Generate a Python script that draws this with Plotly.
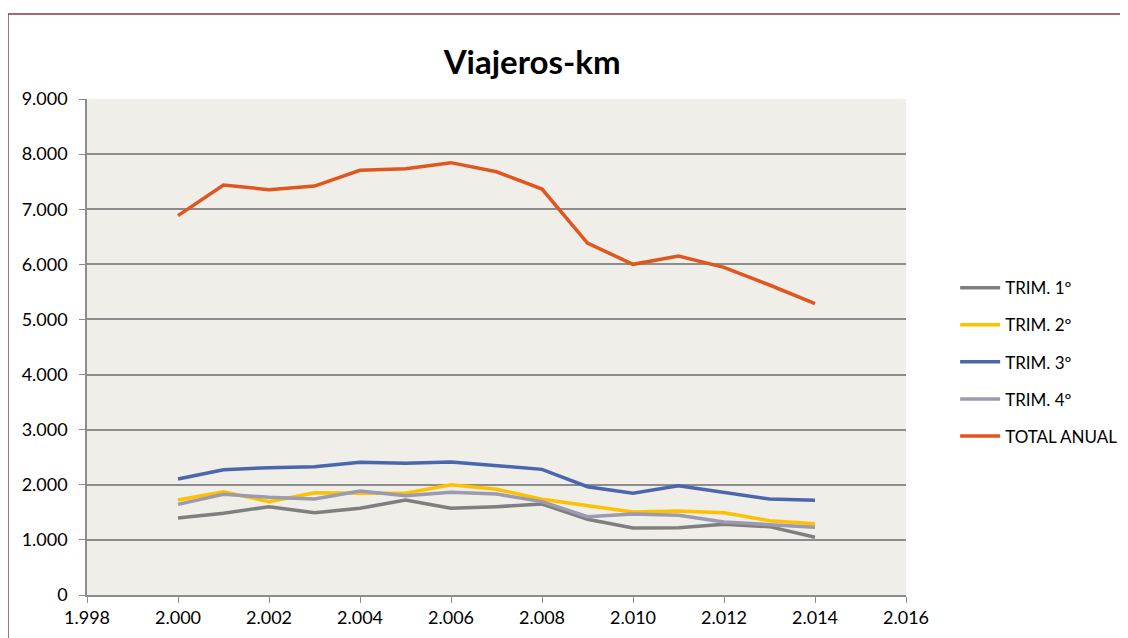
import plotly.graph_objects as go

years = list(range(2000, 2015))
trim1 = [1397, 1482, 1603, 1494, 1573, 1724, 1573, 1603, 1651, 1373, 1216, 1222, 1283, 1240, 1047]
trim2 = [1724, 1875, 1694, 1857, 1845, 1845, 2000, 1918, 1737, 1615, 1506, 1524, 1494, 1349, 1294]
trim3 = [2105, 2274, 2310, 2328, 2408, 2390, 2413, 2340, 2280, 1965, 1845, 1983, 1857, 1742, 1718]
trim4 = [1645, 1827, 1772, 1742, 1887, 1802, 1863, 1833, 1694, 1421, 1470, 1446, 1325, 1283, 1228]
total = [6883, 7440, 7354, 7420, 7706, 7735, 7845, 7680, 7367, 6387, 6000, 6150, 5946, 5625, 5286]

series_names = ["TRIM. 1º", "TRIM. 2º", "TRIM. 3º", "TRIM. 4º", "TOTAL ANUAL"]
series_values = [trim1, trim2, trim3, trim4, total]
colors = ["#7F7F7F", "#FFC000", "#4A66AC", "#9A9AB0", "#E0561F"]

FONT = "Lato, Open Sans, sans-serif"

fig = go.Figure()
for i, (name, vals, col) in enumerate(zip(series_names, series_values, colors)):
    fig.add_trace(go.Scatter(
        x=years, y=vals, mode="lines", name=name,
        line=dict(color=col, width=3.5),
        legendgroup=f"g{i}",
    ))

# page body has an 8px margin, so the figure is 8px smaller on each axis
fig.update_layout(
    width=1120, height=630,
    margin=dict(l=79, r=222, t=91, b=43, autoexpand=False),
    paper_bgcolor="white",
    plot_bgcolor="#EFEEE8",
    separators=",.",
    font=dict(family=FONT, size=18, color="#000000"),
    title=dict(text="<b>Viajeros-km</b>", x=0.468, xanchor="center", xref="container",
               y=0.914, yanchor="middle", yref="container",
               font=dict(size=33, family=FONT)),
    legend=dict(x=1.06, y=0.655, xanchor="left", yanchor="top",
                tracegroupgap=12, font=dict(size=17), bgcolor="rgba(0,0,0,0)",
                itemwidth=40),
    showlegend=True,
    shapes=[dict(type="rect", xref="paper", yref="paper",
                 x0=-0.0965, x1=1.4, y0=-0.2, y1=1.1714,
                 line=dict(color="#8B3A44", width=1.5), fillcolor="rgba(0,0,0,0)",
                 layer="below")],
)
fig.update_xaxes(range=[1998, 2016], dtick=2, tick0=1998, tickformat=",d",
                 showgrid=False, zeroline=False, showline=True, linecolor="#8C8C8C",
                 linewidth=1.5, ticks="outside", ticklen=6, tickcolor="#8C8C8C",
                 tickfont=dict(size=18))
fig.update_yaxes(range=[0, 9000], dtick=1000, tickformat=",d",
                 showgrid=True, gridcolor="#8C8C8C", gridwidth=1.5, zeroline=False,
                 showline=True, linecolor="#8C8C8C", linewidth=1.5,
                 ticks="outside", ticklen=6, tickcolor="#8C8C8C",
                 tickfont=dict(size=18), ticklabelstandoff=8)

fig.write_html("out.html")
